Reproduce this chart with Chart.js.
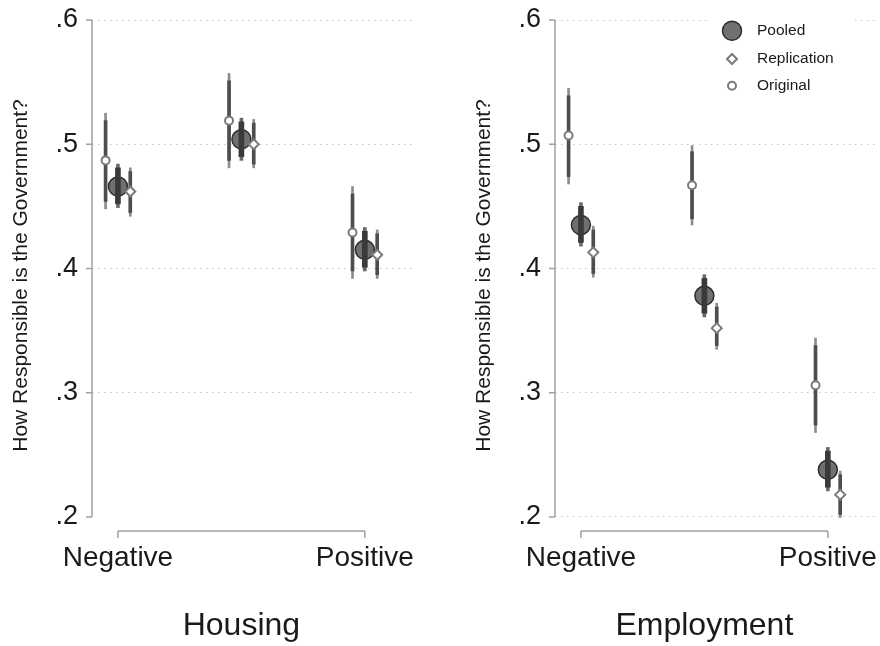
<!DOCTYPE html>
<html><head><meta charset="utf-8">
<script src="https://cdn.jsdelivr.net/npm/chart.js@4.4.1/dist/chart.umd.min.js"></script>
<style>
html,body{margin:0;padding:0;background:#fff;overflow:hidden;width:880px;height:646px}
.p{position:absolute;top:0;width:440px;height:646px}
</style></head><body>
<div class="p" style="left:0"><canvas id="c1" width="440" height="646"></canvas></div>
<div class="p" style="left:463px"><canvas id="c2" width="440" height="646"></canvas></div>
<script>
// ---------- data ----------
const categoryPositions = [1, 2, 3];
const xTickValues = [1, 3];
const xTickLabels = ['Negative', 'Positive'];
const yTickValues = [0.2, 0.3, 0.4, 0.5, 0.6];
const yTickLabels = ['.2', '.3', '.4', '.5', '.6'];
const seriesNames = ['Pooled', 'Replication', 'Original'];
const panelTitles = ['Housing', 'Employment'];
const yAxisTitle = 'How Responsible is the Government?';

// Housing
const housingOriginal      = [0.487, 0.519, 0.429];
const housingOriginalLo95  = [0.448, 0.481, 0.392];
const housingOriginalHi95  = [0.525, 0.557, 0.466];
const housingOriginalLo90  = [0.454, 0.487, 0.398];
const housingOriginalHi90  = [0.519, 0.551, 0.460];
const housingPooled        = [0.466, 0.504, 0.415];
const housingPooledLo95    = [0.449, 0.487, 0.398];
const housingPooledHi95    = [0.484, 0.521, 0.433];
const housingPooledLo90    = [0.452, 0.490, 0.401];
const housingPooledHi90    = [0.481, 0.518, 0.430];
const housingReplication     = [0.462, 0.500, 0.411];
const housingReplicationLo95 = [0.442, 0.481, 0.392];
const housingReplicationHi95 = [0.481, 0.520, 0.431];
const housingReplicationLo90 = [0.445, 0.484, 0.395];
const housingReplicationHi90 = [0.478, 0.517, 0.428];

// Employment
const employmentOriginal      = [0.507, 0.467, 0.306];
const employmentOriginalLo95  = [0.468, 0.435, 0.268];
const employmentOriginalHi95  = [0.545, 0.499, 0.344];
const employmentOriginalLo90  = [0.474, 0.440, 0.274];
const employmentOriginalHi90  = [0.539, 0.494, 0.338];
const employmentPooled        = [0.435, 0.378, 0.238];
const employmentPooledLo95    = [0.418, 0.361, 0.221];
const employmentPooledHi95    = [0.453, 0.395, 0.256];
const employmentPooledLo90    = [0.421, 0.364, 0.224];
const employmentPooledHi90    = [0.450, 0.392, 0.253];
const employmentReplication     = [0.413, 0.352, 0.218];
const employmentReplicationLo95 = [0.393, 0.335, 0.1995];
const employmentReplicationHi95 = [0.434, 0.372, 0.237];
const employmentReplicationLo90 = [0.396, 0.338, 0.202];
const employmentReplicationHi90 = [0.431, 0.369, 0.234];

// ---------- styling ----------
const FONT = '"Liberation Sans", Arial, "DejaVu Sans", sans-serif';
const TEXT = '#1a1a1a';
const AXIS = '#a0a0a0';
const styles = {
  Original:    { off: -0.1, outerW: 2, outerC: '#8c8c8c', innerW: 3, innerC: '#4d4d4d', ciOrder: 6,
                 marker: { pointStyle: 'circle', radius: 4, borderWidth: 2, bg: '#ffffff', border: '#7a7a7a' }, mOrder: 1 },
  Pooled:      { off: 0, outerW: 3, outerC: '#6a6a6a', innerW: 5, innerC: '#3a3a3a', ciOrder: 2,
                 marker: { pointStyle: 'circle', radius: 9.5, borderWidth: 1.5, bg: '#707070', border: '#2e2e2e' }, mOrder: 3 },
  Replication: { off: 0.1, outerW: 2, outerC: '#8c8c8c', innerW: 3, innerC: '#4d4d4d', ciOrder: 6,
                 marker: { pointStyle: 'rectRot', radius: 5, borderWidth: 2, bg: '#ffffff', border: '#7a7a7a' }, mOrder: 0 }
};

function buildDatasets(series) {
  const ds = [];
  series.forEach(s => {
    const st = styles[s.name];
    const xs = categoryPositions.map(c => c + st.off);
    ds.push({ type: 'bar', label: s.name + ' 95%', grouped: false, barThickness: st.outerW,
      backgroundColor: st.outerC, borderWidth: 0, order: st.ciOrder + 1,
      data: xs.map((x, i) => ({ x: x, y: [s.lo95[i], s.hi95[i]] })) });
    ds.push({ type: 'bar', label: s.name + ' 90%', grouped: false, barThickness: st.innerW,
      backgroundColor: st.innerC, borderWidth: 0, order: st.ciOrder,
      data: xs.map((x, i) => ({ x: x, y: [s.lo90[i], s.hi90[i]] })) });
    ds.push({ type: 'scatter', label: s.name, showLine: false, order: st.mOrder,
      pointStyle: st.marker.pointStyle, pointRadius: st.marker.radius,
      pointBorderWidth: st.marker.borderWidth, pointBackgroundColor: st.marker.bg,
      pointBorderColor: st.marker.border,
      data: xs.map((x, i) => ({ x: x, y: s.est[i] })) });
  });
  return ds;
}

const axisPlugin = {
  id: 'stataAxes',
  beforeDatasetsDraw(chart) {
    const { ctx, chartArea, scales: { x, y } } = chart;
    ctx.save();
    ctx.strokeStyle = AXIS; ctx.lineWidth = 1.5;
    const yTop = y.getPixelForValue(yTickValues[yTickValues.length - 1]);
    const yBot = y.getPixelForValue(yTickValues[0]);
    ctx.beginPath();
    ctx.moveTo(chartArea.left, yTop); ctx.lineTo(chartArea.left, yBot);
    yTickValues.forEach(v => { const py = y.getPixelForValue(v); ctx.moveTo(chartArea.left - 6, py); ctx.lineTo(chartArea.left, py); });
    const xl = x.getPixelForValue(xTickValues[0]);
    const xr = x.getPixelForValue(xTickValues[xTickValues.length - 1]);
    const by = chartArea.bottom;
    ctx.moveTo(xl, by); ctx.lineTo(xr, by);
    xTickValues.forEach(v => { const px = x.getPixelForValue(v); ctx.moveTo(px, by); ctx.lineTo(px, by + 7); });
    ctx.stroke();
    ctx.restore();
  },
  afterDraw(chart, args) {
    const { ctx, scales: { x } } = chart;
    const t = chart.options.plugins.stataAxes;
    if (!t || !t.title) return;
    ctx.save();
    ctx.fillStyle = TEXT;
    ctx.font = '32px ' + FONT;
    ctx.textAlign = 'center'; ctx.textBaseline = 'middle';
    ctx.fillText(t.title, x.getPixelForValue(categoryPositions[1]), chart.height - 20);
    ctx.restore();
  }
};

const legendPlugin = {
  id: 'insideLegend',
  afterDatasetsDraw(chart, args, opts) {
    if (!opts || !opts.show) return;
    const { ctx, chartArea } = chart;
    const mx = chartArea.right - 144, tx = chartArea.right - 119;
    const rows = [10.7, 39, 65.7].map(v => chartArea.top + v);
    ctx.save();
    ctx.fillStyle = '#ffffff';
    ctx.fillRect(chartArea.right - 165, chartArea.top - 4, 140, 84);
    seriesNames.forEach((name, i) => {
      const m = styles[name].marker;
      const cy = rows[i];
      ctx.beginPath();
      if (m.pointStyle === 'rectRot') {
        ctx.moveTo(mx, cy - m.radius); ctx.lineTo(mx + m.radius, cy);
        ctx.lineTo(mx, cy + m.radius); ctx.lineTo(mx - m.radius, cy); ctx.closePath();
      } else {
        ctx.arc(mx, cy, m.radius, 0, Math.PI * 2);
      }
      ctx.fillStyle = m.bg; ctx.fill();
      ctx.lineWidth = m.borderWidth; ctx.strokeStyle = m.border; ctx.stroke();
      ctx.fillStyle = TEXT;
      ctx.font = '15.5px ' + FONT;
      ctx.textBaseline = 'middle'; ctx.textAlign = 'left';
      ctx.fillText(name, tx, cy);
    });
    ctx.restore();
  }
};

function makeChart(id, title, series, showLegend, hideBottomGrid) {
  return new Chart(document.getElementById(id), {
    type: 'scatter',
    data: { datasets: buildDatasets(series) },
    options: {
      responsive: false, animation: false, devicePixelRatio: 1, events: [],
      layout: { padding: { left: 0, top: 20, right: 27, bottom: 0 } },
      plugins: { legend: { display: false }, tooltip: { enabled: false },
                 insideLegend: { show: showLegend }, stataAxes: { title: title } },
      scales: {
        x: {
          type: 'linear', min: 0.79, max: 3.39, offset: false,
          afterBuildTicks: s => { s.ticks = xTickValues.map(v => ({ value: v })); },
          afterFit: s => { s.height = 115; s.paddingLeft = 0; s.paddingRight = 0; },
          grid: { display: false, drawTicks: false },
          border: { display: false },
          ticks: { autoSkip: false, maxRotation: 0, padding: 10, color: TEXT,
                   font: { family: FONT, size: 28 },
                   callback: (v) => xTickLabels[xTickValues.indexOf(v)] },
          title: { display: false }
        },
        y: {
          type: 'linear', min: 0.18873, max: 0.6,
          afterBuildTicks: s => { s.ticks = yTickValues.map(v => ({ value: v })); },
          afterFit: s => { s.width = 92; s.paddingTop = 0; s.paddingBottom = 0; },
          grid: { drawTicks: false, lineWidth: 1,
                  color: c => (hideBottomGrid && c.tick && Math.abs(c.tick.value - yTickValues[0]) < 1e-6) ? 'rgba(0,0,0,0)' : '#c4c4c4' },
          border: { display: false, dash: [1.5, 4.5] },
          ticks: { padding: 14, color: TEXT, font: { family: FONT, size: 27 },
                   callback: (v) => yTickLabels[yTickValues.findIndex(t => Math.abs(t - v) < 1e-6)] },
          title: { display: true, text: yAxisTitle, color: TEXT, font: { family: FONT, size: 21 },
                   padding: { top: 9, bottom: 0 } }
        }
      }
    },
    plugins: [axisPlugin, legendPlugin]
  });
}

makeChart('c1', panelTitles[0], [
  { name: 'Original', est: housingOriginal, lo95: housingOriginalLo95, hi95: housingOriginalHi95, lo90: housingOriginalLo90, hi90: housingOriginalHi90 },
  { name: 'Pooled', est: housingPooled, lo95: housingPooledLo95, hi95: housingPooledHi95, lo90: housingPooledLo90, hi90: housingPooledHi90 },
  { name: 'Replication', est: housingReplication, lo95: housingReplicationLo95, hi95: housingReplicationHi95, lo90: housingReplicationLo90, hi90: housingReplicationHi90 }
], false, true);

makeChart('c2', panelTitles[1], [
  { name: 'Original', est: employmentOriginal, lo95: employmentOriginalLo95, hi95: employmentOriginalHi95, lo90: employmentOriginalLo90, hi90: employmentOriginalHi90 },
  { name: 'Pooled', est: employmentPooled, lo95: employmentPooledLo95, hi95: employmentPooledHi95, lo90: employmentPooledLo90, hi90: employmentPooledHi90 },
  { name: 'Replication', est: employmentReplication, lo95: employmentReplicationLo95, hi95: employmentReplicationHi95, lo90: employmentReplicationLo90, hi90: employmentReplicationHi90 }
], true, false);
</script>
</body></html>
